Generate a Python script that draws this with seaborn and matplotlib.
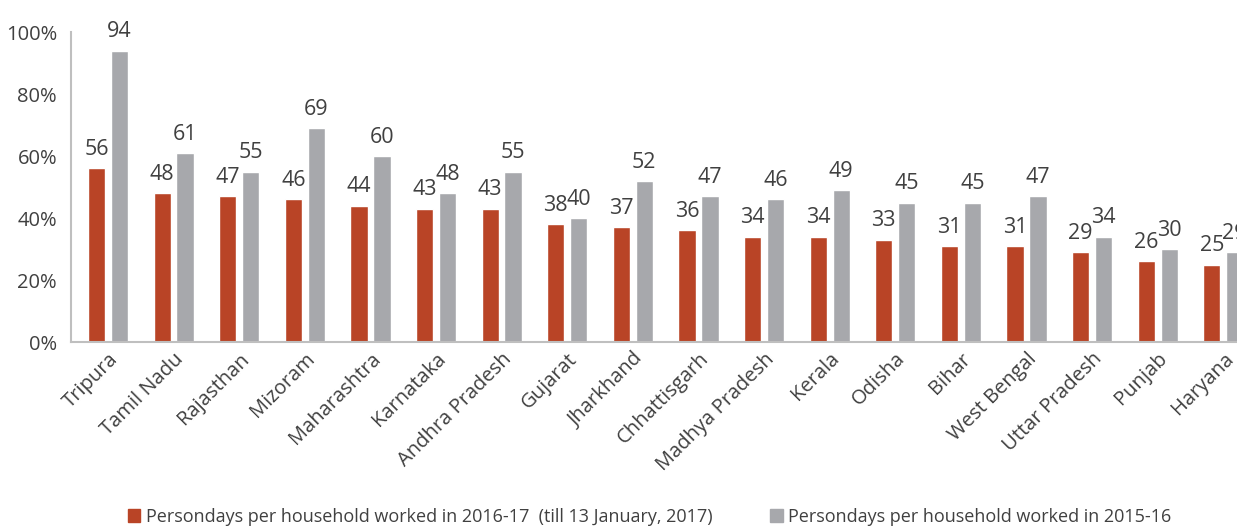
import matplotlib
matplotlib.use("Agg")
import matplotlib.pyplot as plt
import seaborn as sns
import pandas as pd
from matplotlib.ticker import FuncFormatter
from matplotlib.patches import Patch

states = ["Tripura", "Tamil Nadu", "Rajasthan", "Mizoram", "Maharashtra", "Karnataka",
          "Andhra Pradesh", "Gujarat", "Jharkhand", "Chhattisgarh", "Madhya Pradesh",
          "Kerala", "Odisha", "Bihar", "West Bengal", "Uttar Pradesh", "Punjab", "Haryana"]
v2016 = [56, 48, 47, 46, 44, 43, 43, 38, 37, 36, 34, 34, 33, 31, 31, 29, 26, 25]
v2015 = [94, 61, 55, 69, 60, 48, 55, 40, 52, 47, 46, 49, 45, 45, 47, 34, 30, 29]
s1 = "Persondays per household worked in 2016-17  (till 13 January, 2017)"
s2 = "Persondays per household worked in 2015-16"

df = pd.DataFrame({
    "state": states * 2,
    "value": v2016 + v2015,
    "series": [s1] * len(states) + [s2] * len(states),
})

sns.set_theme(style="white")
plt.rcParams["font.family"] = ["Open Sans", "DejaVu Sans"]

red = "#B94426"
gray = "#A7A8AC"
txt = "#404040"

fig = plt.figure(figsize=(12.37, 5.27), dpi=100)
ax = fig.add_axes([0.0574, 0.351, 0.958, 0.588])
sns.barplot(data=df, x="state", y="value", hue="series", order=states,
            hue_order=[s1, s2], palette=[red, gray], width=0.7, gap=0.25,
            ax=ax, legend=False, saturation=1)

for cont in ax.containers:
    ax.bar_label(cont, fmt="%d", padding=6, fontsize=15.5, color=txt)

ax.set_ylim(0, 100)
ax.set_xlim(-0.564, 17.5)
ax.set_yticks([0, 20, 40, 60, 80, 100])
ax.yaxis.set_major_formatter(FuncFormatter(lambda v, p: f"{int(v)}%"))
ax.set_xlabel("")
ax.set_ylabel("")
ax.tick_params(axis="y", labelsize=14.5, labelcolor=txt, length=0, pad=10)
ax.tick_params(axis="x", labelsize=14.5, labelcolor=txt, length=0, pad=5)
plt.setp(ax.get_xticklabels(), rotation=45, ha="right", rotation_mode="anchor")

for side in ["top", "right"]:
    ax.spines[side].set_visible(False)
for side in ["left", "bottom"]:
    ax.spines[side].set_color("#BFBFBF")
    ax.spines[side].set_linewidth(1.5)

handles = [Patch(color=red, label=s1), Patch(color=gray, label=s2)]
fig.legend(handles=handles, loc="lower center", bbox_to_anchor=(0.525, -0.028), ncol=2,
           frameon=False, fontsize=13, handlelength=0.7, handleheight=0.7,
           handletextpad=0.3, columnspacing=3.2, labelcolor=txt)

fig.savefig("out.png", dpi=100)
